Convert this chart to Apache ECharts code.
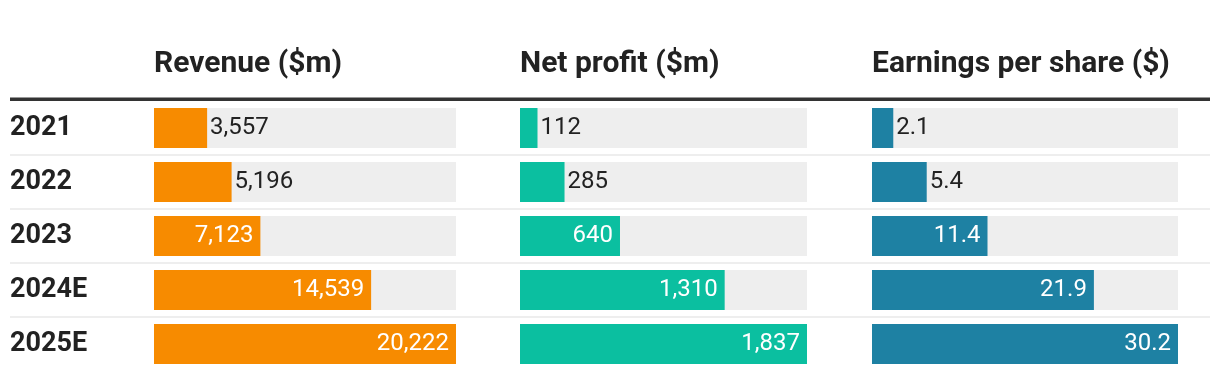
<!DOCTYPE html>
<html><head><meta charset="utf-8">
<script src="https://cdn.jsdelivr.net/npm/echarts@6/dist/echarts.min.js"></script>
<style>html,body{margin:0;padding:0;background:#fff}#c{width:1220px;height:380px}</style>
</head><body><div id="c"></div>
<script>
const years = ['2021', '2022', '2023', '2024E', '2025E'];
const headers = ['Revenue ($m)', 'Net profit ($m)', 'Earnings per share ($)'];
const revenue = [3557, 5196, 7123, 14539, 20222];
const netProfit = [112, 285, 640, 1310, 1837];
const eps = [2.1, 5.4, 11.4, 21.9, 30.2];
const colors = ['#f78b00', '#0bbfa0', '#1e81a3'];

const seriesData = [revenue, netProfit, eps];
const fmt = [
  v => v.toLocaleString('en-US'),
  v => v.toLocaleString('en-US'),
  v => v.toFixed(1)
];
const panels = [{left:154, width:302}, {left:520, width:287}, {left:872, width:306}];
const gridTop = 101, rowH = 54, n = years.length;
const font = 'Roboto, "Noto Sans", sans-serif';

const grids = [], xAxes = [], yAxes = [], series = [], titles = [];
panels.forEach((p, i) => {
  grids.push({left: p.left, width: p.width, top: gridTop, height: rowH * n});
  const mx = Math.max(...seriesData[i]);
  xAxes.push({type:'value', gridIndex:i, min:0, max:mx, show:false});
  yAxes.push({type:'category', gridIndex:i, data:years, inverse:true,
    axisLine:{show:false}, axisTick:{show:false}, splitLine:{show:false},
    axisLabel: i === 0 ? {show:true, align:'left', margin: p.left - 10,
      fontFamily:font, fontWeight:'bold', fontSize:27, color:'#222'} : {show:false}});
  series.push({type:'bar', xAxisIndex:i, yAxisIndex:i, barWidth:40,
    showBackground:true, backgroundStyle:{color:'#eeeeee'},
    itemStyle:{color:colors[i]}, animation:false,
    data: seriesData[i].map(v => {
      const inside = v / mx > 0.3;
      return {value:v, label:{show:true,
        position: inside ? 'insideRight' : 'right',
        distance: inside ? 7 : 3,
        color: inside ? '#fff' : '#222',
        fontFamily:font, fontSize:24,
        formatter: () => fmt[i](v)}};
    })});
  titles.push({text:headers[i], left:p.left - 5, top:44,
    textStyle:{fontFamily:font, fontWeight:'bold', fontSize:30, color:'#222'}});
});

const graphics = [{type:'rect', shape:{x:10, y:97.5, width:1200, height:3.5}, style:{fill:'#333'}, silent:true}];
for (let k = 1; k < n; k++) {
  graphics.push({type:'rect', shape:{x:10, y:gridTop + k*rowH - 1, width:1200, height:2}, style:{fill:'#eeeeee'}, silent:true});
}

const chart = echarts.init(document.getElementById('c'), null, {renderer:'canvas'});
chart.setOption({animation:false, title:titles, grid:grids, xAxis:xAxes, yAxis:yAxes, series:series, graphic:graphics});
</script></body></html>
